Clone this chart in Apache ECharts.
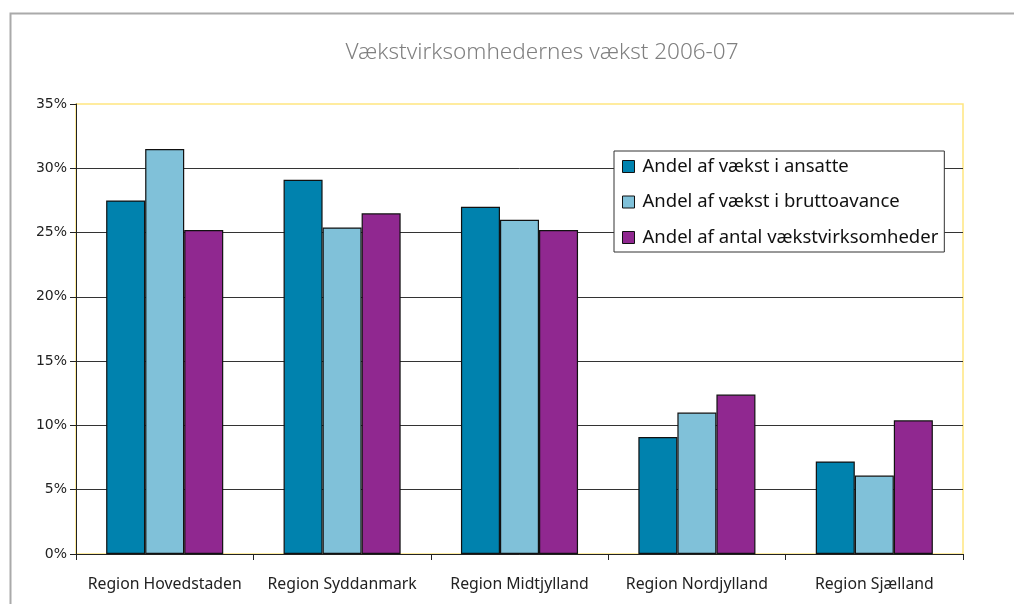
<!DOCTYPE html>
<html><head><meta charset="utf-8">
<script src="https://cdn.jsdelivr.net/npm/echarts@6/dist/echarts.min.js"></script>
<style>html,body{margin:0;padding:0;background:#fff}#c{width:1014px;height:604px}</style>
</head><body><div id="c"></div>
<script>
const categories = ['Region Hovedstaden','Region Syddanmark','Region Midtjylland','Region Nordjylland','Region Sjælland'];
const seriesNames = ['Andel af vækst i ansatte','Andel af vækst i bruttoavance','Andel af antal vækstvirksomheder'];
const ansatte = [27.5, 29.1, 27.0, 9.1, 7.2];
const bruttoavance = [31.5, 25.4, 26.0, 11.0, 6.1];
const antal = [25.2, 26.5, 25.2, 12.4, 10.4];
const colors = ['#0082AE','#80C1D9','#902890'];
const title = 'Vækstvirksomhedernes vækst 2006-07';

const chart = echarts.init(document.getElementById('c'));
const vfont = '"DejaVu Sans", Verdana, sans-serif';
const hfont = '"Noto Sans", "Open Sans", sans-serif';
const mk = (name, data, i) => ({
  name, type: 'bar', data, barGap: '0%', barCategoryGap: '34%',
  itemStyle: { color: colors[i], borderColor: '#111', borderWidth: 1.2 },
  emphasis: { disabled: true }, animation: false
});
chart.setOption({
  animation: false,
  graphic: [{ type: 'rect', shape: { x: 10.5, y: 13.5, width: 1020, height: 600 },
    style: { fill: 'none', stroke: '#aaaaaa', lineWidth: 2 }, silent: true, z: -1 }],
  title: { text: title, left: 537, top: 36, textAlign: 'center',
    textStyle: { color: '#808080', fontSize: 22.5, fontWeight: 300, fontFamily: hfont } },
  grid: { left: 76, right: 51, top: 104, bottom: 50, show: true, borderColor: '#FFE680', borderWidth: 1.5, backgroundColor: '#fff' },
  legend: {
    orient: 'vertical', left: 614, top: 151, width: 332,
    backgroundColor: '#fff', borderColor: '#333', borderWidth: 1,
    padding: [6, 6, 5, 8], itemGap: 16.5, itemWidth: 12, itemHeight: 12,
    icon: 'rect', textStyle: { fontSize: 18.5, color: '#111', fontFamily: hfont, padding: [0, 0, 0, 3] },
    itemStyle: { borderColor: '#111', borderWidth: 1 }
  },
  xAxis: {
    type: 'category', data: categories,
    axisLine: { lineStyle: { color: '#222', width: 1 } },
    axisTick: { show: true, length: 6, lineStyle: { color: '#222' } },
    axisLabel: { interval: 0, fontSize: 15.8, color: '#222', margin: 22, fontFamily: hfont }
  },
  yAxis: {
    type: 'value', min: 0, max: 35, interval: 5,
    axisLine: { show: true, lineStyle: { color: '#222', width: 1 } },
    axisTick: { show: true, length: 6, lineStyle: { color: '#222' } },
    axisLabel: { formatter: '{value}%', fontSize: 14, color: '#222', margin: 9, fontFamily: vfont },
    splitLine: { showMaxLine: false, lineStyle: { color: '#333', width: 1 } }
  },
  series: [mk(seriesNames[0], ansatte, 0), mk(seriesNames[1], bruttoavance, 1), mk(seriesNames[2], antal, 2)]
});
</script></body></html>
